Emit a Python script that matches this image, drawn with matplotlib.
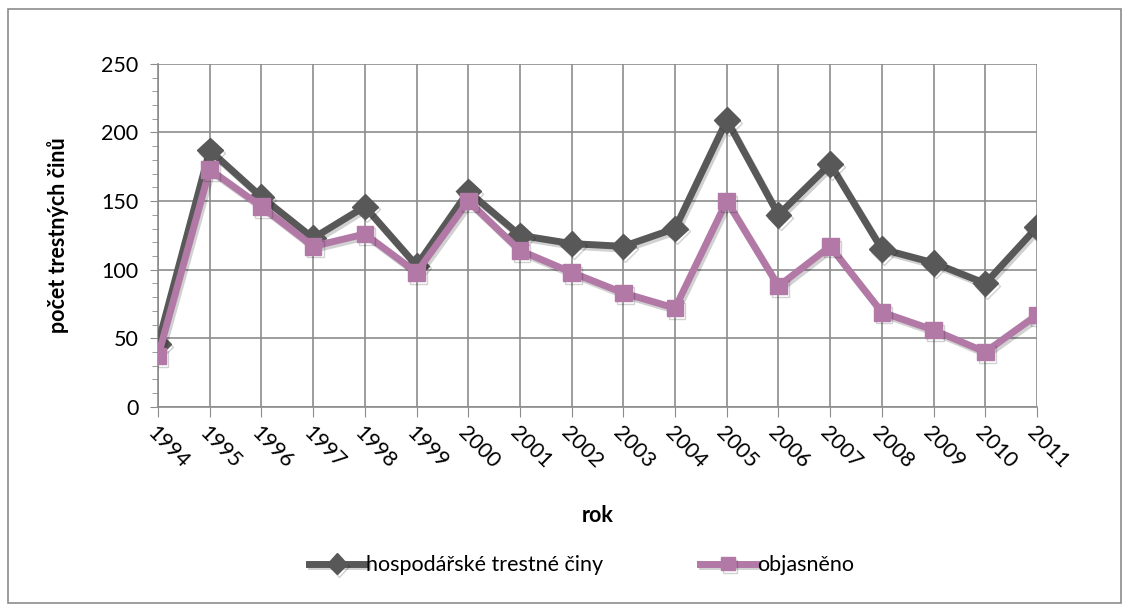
import matplotlib.pyplot as plt
import matplotlib.patheffects as pe
from matplotlib.patches import Rectangle
from matplotlib.ticker import MultipleLocator

# data
roky = list(range(1994, 2012))
hosp_tc = [46, 187, 153, 123, 146, 103, 157, 125, 119, 117, 130, 209, 140, 177, 115, 105, 90, 131]
objasneno = [37, 173, 146, 117, 126, 98, 150, 114, 98, 83, 72, 150, 88, 117, 69, 56, 40, 67]

plt.rcParams['font.family'] = ['Lato', 'DejaVu Sans']
velikost = 15.5

fig = plt.figure(figsize=(11.29, 6.11), dpi=100)
ax = fig.add_axes([0.14, 0.334, 0.7785, 0.5615])

# ramecek kolem celeho grafu
fig.patches.append(Rectangle((0.007, 0.013), 0.986, 0.973, transform=fig.transFigure,
                             fill=False, edgecolor='#8c8c8c', linewidth=1.2))

stin = [pe.SimpleLineShadow(offset=(1.5, -2), shadow_color='black', alpha=0.18), pe.Normal()]
ax.plot(roky, hosp_tc, color='#585858', linewidth=5, marker='D', markersize=13,
        label='hospodářské trestné činy', path_effects=stin, zorder=3)
ax.plot(roky, objasneno, color='#b279a6', linewidth=5, marker='s', markersize=12,
        label='objasněno', path_effects=stin, zorder=4)

ax.set_xlim(1994, 2011)
ax.set_ylim(0, 250)
ax.set_xticks(roky)
ax.set_xticklabels([str(r) for r in roky], rotation=-45, ha='left', va='top',
                   rotation_mode='anchor', fontsize=velikost)
ax.yaxis.set_major_locator(MultipleLocator(50))
ax.yaxis.set_minor_locator(MultipleLocator(10))
ax.tick_params(axis='y', labelsize=velikost, length=6, color='#8c8c8c', pad=8)
ax.tick_params(axis='y', which='minor', length=4, color='#8c8c8c')
ax.tick_params(axis='x', length=7, color='#8c8c8c', pad=4)

ax.grid(True, which='major', color='#8c8c8c', linewidth=1.2)
ax.set_axisbelow(True)
for s in ax.spines.values():
    s.set_visible(False)
ax.spines['left'].set_visible(True)
ax.spines['bottom'].set_visible(True)
ax.spines['left'].set_color('#8c8c8c')
ax.spines['bottom'].set_color('#8c8c8c')
ax.spines['left'].set_linewidth(1.2)
ax.spines['bottom'].set_linewidth(1.2)

ax.set_ylabel('počet trestných činů', fontsize=velikost, fontweight='bold', labelpad=23)
ax.set_xlabel('rok', fontsize=velikost, fontweight='bold', labelpad=24)

fig.legend(loc='center', bbox_to_anchor=(0.515, 0.075), ncol=2, frameon=False,
           fontsize=velikost, handlelength=2.6, handletextpad=0.05, columnspacing=4.5,
           markerscale=0.8)

fig.savefig('out.png', dpi=100)
